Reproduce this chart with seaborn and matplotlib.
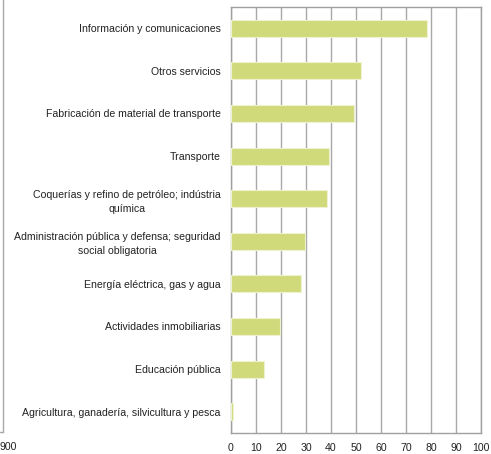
import numpy as np
import pandas as pd
import matplotlib.pyplot as plt
from matplotlib.lines import Line2D
import seaborn as sns

CATEGORIES = [
    "Información y comunicaciones",
    "Otros servicios",
    "Fabricación de material de transporte",
    "Transporte",
    "Coquerías y refino de petróleo; indústria\nquímica",
    "Administración pública y defensa; seguridad\nsocial obligatoria",
    "Energía eléctrica, gas y agua",
    "Actividades inmobiliarias",
    "Educación pública",
    "Agricultura, ganadería, silvicultura y pesca",
]
VALUES = [78.5, 52.0, 49.2, 39.2, 38.5, 29.5, 28.1, 19.6, 13.3, 0.9]
X_TICKS = list(range(0, 101, 10))

df = pd.DataFrame({"sector": CATEGORIES, "valor": VALUES})

sns.set_style("white")
plt.rcParams["font.family"] = ["Liberation Sans", "DejaVu Sans"]

fig = plt.figure(figsize=(4.91, 4.54), dpi=100)
ax = fig.add_axes([231 / 491, 21 / 454, 250 / 491, 426 / 454])

sns.barplot(data=df, x="valor", y="sector", orient="h", color="#d1da7b",
            width=0.4, edgecolor="#eef2cf", linewidth=0.8, saturation=1,
            ax=ax, zorder=3)

ax.set_xlim(0, 100)
ax.set_ylim(len(CATEGORIES) - 0.5, -0.5)
ax.set_xticks(X_TICKS)
ax.set_xticklabels([str(t) for t in X_TICKS], fontsize=7.6, color="#222222")
ax.set_yticklabels(CATEGORIES, fontsize=7.6, color="#222222", ha="right",
                   multialignment="center", linespacing=1.5)
ax.tick_params(axis="y", length=0, pad=7.5)
ax.set_yticks(np.arange(len(CATEGORIES) + 1) - 0.5, minor=True)
ax.tick_params(axis="y", which="minor", length=4, color="#a0a0a0", width=1)
ax.tick_params(axis="x", length=0, pad=7)
ax.set_xlabel("")
ax.set_ylabel("")

ax.xaxis.grid(True, color="#a8a8a8", linewidth=1)
ax.set_axisbelow(True)
for s in ax.spines.values():
    s.set_visible(True)
    s.set_color("#a0a0a0")
    s.set_linewidth(1)

# remnant of a neighbouring chart at the left edge
fig.add_artist(Line2D([3 / 491, 3 / 491], [1, 22 / 454], color="#a8a8a8", lw=1))
fig.add_artist(Line2D([0, 3 / 491], [22 / 454, 22 / 454], color="#a8a8a8", lw=1))
fig.text(-1 / 491, 7 / 454, "900", fontsize=7.6, color="#222222", ha="left", va="center")

fig.savefig("out.png", dpi=100)
